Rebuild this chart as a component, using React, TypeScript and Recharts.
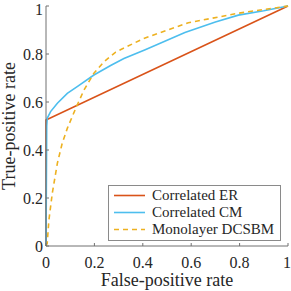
import React from 'react';
import { LineChart, Line, XAxis, YAxis, Label } from 'recharts';

const fprER = [0, 0, 1];
const tprER = [0, 0.525, 1];

const fprCM = [0, 0.003, 0.005, 0.019, 0.047, 0.088, 0.129, 0.198, 0.267, 0.322, 0.41, 0.574, 0.7, 0.795, 0.9, 1];
const tprCM = [0, 0.5, 0.532, 0.56, 0.595, 0.636, 0.664, 0.7125, 0.752, 0.781, 0.818, 0.89, 0.933, 0.962, 0.98, 1];

const fprDC = [0, 0.005, 0.012, 0.026, 0.047, 0.067, 0.088, 0.123, 0.157, 0.198, 0.24, 0.288, 0.402, 0.588, 0.795, 1];
const tprDC = [0, 0.011, 0.108, 0.22, 0.345, 0.428, 0.49, 0.574, 0.65, 0.72, 0.768, 0.808, 0.864, 0.93, 0.97, 1];

const ticks = [0, 0.2, 0.4, 0.6, 0.8, 1];

const zip = (xs: number[], ys: number[]) => xs.map((x, i) => ({ fpr: x, tpr: ys[i] }));

const series = [
  { name: 'Correlated ER', data: zip(fprER, tprER), color: '#D95319', dash: undefined },
  { name: 'Correlated CM', data: zip(fprCM, tprCM), color: '#4DBEEE', dash: undefined },
  { name: 'Monolayer DCSBM', data: zip(fprDC, tprDC), color: '#EDB120', dash: '5 4' },
];

const font = '"Liberation Serif", "Times New Roman", serif';
const axisColor = '#707070';
const textColor = '#262626';

const fmt = (v: number) => (v === 0 || v === 1 ? String(v) : v.toFixed(1));
const blank = () => '';

// legend drawn on top of the plot, like MATLAB's 'southeast' box
const LegendBox = () => (
  <div
    style={{
      position: 'absolute',
      left: 108,
      top: 185,
      width: 171,
      height: 54,
      border: '1px solid #8a8a8a',
      background: '#fff',
      fontFamily: font,
      fontSize: 15,
      color: textColor,
    }}
  >
    {series.map((s, i) => (
      <div key={s.name} style={{ display: 'flex', alignItems: 'center', height: 17, marginTop: i === 0 ? 1 : 0 }}>
        <svg width={43} height={17}>
          <line x1={5} x2={36} y1={8.5} y2={8.5} stroke={s.color} strokeWidth={1.6} strokeDasharray={s.dash} />
        </svg>
        <span style={{ lineHeight: '17px', whiteSpace: 'nowrap' }}>{s.name}</span>
      </div>
    ))}
  </div>
);

export default function App() {
  return (
    <div style={{ position: 'fixed', left: 0, top: 0, width: 291, height: 291, background: '#fff' }}>
      <LineChart width={291} height={291} margin={{ top: 6, right: 3, bottom: 0, left: 0 }}>
        <XAxis
          xAxisId="b"
          dataKey="fpr"
          type="number"
          domain={[0, 1]}
          ticks={ticks}
          tickFormatter={fmt}
          height={45}
          tickSize={-3}
          tickMargin={14}
          stroke={axisColor}
          tick={{ fill: textColor, fontSize: 16, fontFamily: font }}
        >
          <Label value="False-positive rate" position="insideBottom" offset={5} style={{ fill: textColor, fontSize: 18, fontFamily: font }} />
        </XAxis>
        <XAxis
          xAxisId="t"
          orientation="top"
          dataKey="fpr"
          type="number"
          domain={[0, 1]}
          ticks={ticks}
          tickFormatter={blank}
          height={0}
          tickSize={-3}
          stroke={axisColor}
        />
        <YAxis
          yAxisId="l"
          dataKey="tpr"
          type="number"
          domain={[0, 1]}
          ticks={ticks}
          tickFormatter={fmt}
          width={46}
          tickSize={-3}
          tickMargin={6}
          stroke={axisColor}
          tick={{ fill: textColor, fontSize: 16, fontFamily: font }}
        >
          <Label value="True-positive rate" angle={-90} position="insideLeft" offset={9} style={{ textAnchor: 'middle', fill: textColor, fontSize: 18, fontFamily: font }} />
        </YAxis>
        <YAxis
          yAxisId="r"
          orientation="right"
          dataKey="tpr"
          type="number"
          domain={[0, 1]}
          ticks={ticks}
          tickFormatter={blank}
          width={0}
          tickSize={-3}
          stroke={axisColor}
        />
        {series.map((s) => (
          <Line
            key={s.name}
            xAxisId="b"
            yAxisId="l"
            data={s.data}
            dataKey="tpr"
            name={s.name}
            type="linear"
            stroke={s.color}
            strokeWidth={1.6}
            strokeDasharray={s.dash}
            dot={false}
            isAnimationActive={false}
          />
        ))}
      </LineChart>
      <LegendBox />
    </div>
  );
}
